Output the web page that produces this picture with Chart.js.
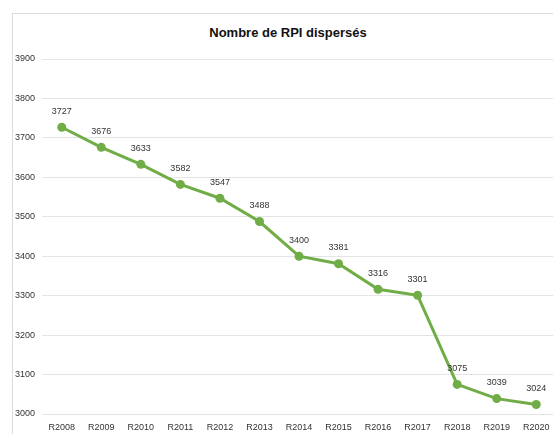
<!DOCTYPE html>
<html>
<head>
<meta charset="utf-8">
<script src="https://cdn.jsdelivr.net/npm/chart.js@4/dist/chart.umd.min.js"></script>
<style>
    html, body { margin: 0; padding: 0; background: #fff; overflow: hidden; }
    body { width: 553px; height: 434px; position: relative; }
    #frame {
        position: absolute; left: 12px; top: 13px; width: 600px; height: 500px;
        border-left: 1px solid #dcdcdc; border-top: 1px solid #dcdcdc;
    }
    #title {
        position: absolute; left: 188px; width: 200px; top: 25px; text-align: center;
        font: bold 13px 'Liberation Sans', Arial, sans-serif; color: #111; line-height: 16px;
    }
    #wrap { position: absolute; left: 0; top: 0; width: 576px; height: 434px; }
</style>
</head>
<body>
<div id="frame"></div>
<div id="title">Nombre de RPI dispersés</div>
<div id="wrap"><canvas id="rpi-chart" width="576" height="434"></canvas></div>
<script>
// values
const years = ["R2008", "R2009", "R2010", "R2011", "R2012", "R2013", "R2014",
               "R2015", "R2016", "R2017", "R2018", "R2019", "R2020"];
const rpiCount = [3727, 3676, 3633, 3582, 3547, 3488, 3400, 3381, 3316, 3301, 3075, 3039, 3024];
const yTicks = [3000, 3100, 3200, 3300, 3400, 3500, 3600, 3700, 3800, 3900];

const smallFont = { family: "'Liberation Sans Narrow', 'Liberation Sans', sans-serif", size: 9 };

// draw each value above its point
const valueLabels = {
    id: 'valueLabels',
    afterDatasetsDraw(chart) {
        const ctx = chart.ctx;
        const meta = chart.getDatasetMeta(0);
        ctx.save();
        ctx.font = `9px ${smallFont.family}`;
        ctx.fillStyle = '#333';
        ctx.textAlign = 'center';
        ctx.textBaseline = 'middle';
        meta.data.forEach((pt, i) => {
            ctx.fillText(String(rpiCount[i]), pt.x, pt.y - 16);
        });
        ctx.restore();
    }
};

const ctx = document.getElementById('rpi-chart').getContext('2d');
new Chart(ctx, {
    type: 'line',
    data: {
        labels: years,
        datasets: [{
            label: "Nombre de RPI dispersés",
            data: rpiCount,
            borderColor: "#70ad47",
            backgroundColor: "#70ad47",
            borderWidth: 3,
            pointRadius: 4.5,
            pointHoverRadius: 4.5,
            pointBorderWidth: 0,
            tension: 0,
            fill: false,
        }]
    },
    options: {
        responsive: false,
        animation: false,
        events: [],
        layout: { padding: { left: 0, right: 20, top: 59, bottom: 0 } },
        plugins: {
            legend: { display: false },
            tooltip: { enabled: false },
            title: { display: false },
        },
        scales: {
            x: {
                offset: true,
                grid: { display: false, drawTicks: false },
                border: { display: false },
                ticks: { color: '#333', font: smallFont, padding: 8, maxRotation: 0, autoSkip: false },
                afterFit(scale) { scale.height = 20; },
            },
            y: {
                min: 3000,
                max: 3900,
                afterBuildTicks(scale) { scale.ticks = yTicks.map(v => ({ value: v })); },
                grid: { color: '#e4e4e4', lineWidth: 1, drawTicks: false },
                border: { display: false },
                ticks: { color: '#333', font: smallFont, padding: 7, callback: v => String(v) },
                afterFit(scale) { scale.width = 42; },
            }
        }
    },
    plugins: [valueLabels]
});
</script>
</body>
</html>
